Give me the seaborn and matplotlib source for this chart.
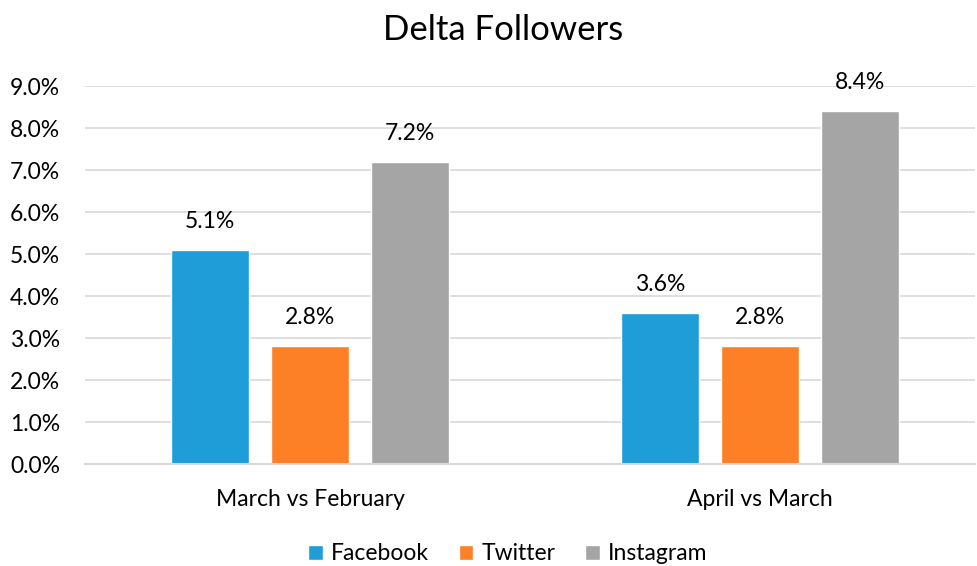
import pandas as pd
import matplotlib
matplotlib.use('Agg')
import matplotlib.pyplot as plt
import seaborn as sns
from matplotlib.ticker import PercentFormatter

# Data
comparisons = ['March vs February', 'April vs March']
networks = ['Facebook', 'Twitter', 'Instagram']
facebook = [5.1, 3.6]
twitter = [2.8, 2.8]
instagram = [7.2, 8.4]
colors = ['#1f9dd9', '#fd7f26', '#a5a5a5']

df = pd.DataFrame({
    'comparison': comparisons * 3,
    'network': [n for n in networks for _ in comparisons],
    'value': facebook + twitter + instagram,
})

sns.set_style('white')
plt.rcParams['font.family'] = ['Lato', 'DejaVu Sans']
plt.rcParams['text.color'] = '#000000'

fig = plt.figure(figsize=(9.77, 5.66), dpi=100)
ax = fig.add_axes([0.087, 0.180, 0.911, 0.668])

sns.barplot(data=df, x='comparison', y='value', hue='network',
            hue_order=networks, palette=colors, width=0.667, gap=0.22,
            saturation=1, ax=ax, legend=True)

for cont in ax.containers:
    ax.bar_label(cont, fmt='%.1f%%', padding=13, fontsize=16.5, color='#000000')

ax.set_ylim(0, 9)
ax.set_yticks(range(0, 10))
ax.yaxis.set_major_formatter(PercentFormatter(decimals=1))
ax.set_xlim(-0.5, 1.478)
ax.grid(axis='y', color='#d9d9d9', linewidth=1.2)
ax.set_axisbelow(True)
for s in ['top', 'right', 'left']:
    ax.spines[s].set_visible(False)
ax.spines['bottom'].set_color('#d9d9d9')
ax.spines['bottom'].set_linewidth(1.5)
ax.tick_params(axis='both', length=0, labelsize=16.5, colors='#000000')
ax.tick_params(axis='y', pad=18)
ax.tick_params(axis='x', pad=18)
ax.set_xlabel('')
ax.set_ylabel('')

fig.suptitle('Delta Followers', fontsize=25, y=0.975, x=0.515, color='#000000')

ax.legend(loc='upper center', bbox_to_anchor=(0.475, -0.155), ncol=3, frameon=False,
          fontsize=16.5, handlelength=0.65, handleheight=0.65, handletextpad=0.35,
          columnspacing=1.3)

plt.savefig('out.png', dpi=100)
plt.close()
